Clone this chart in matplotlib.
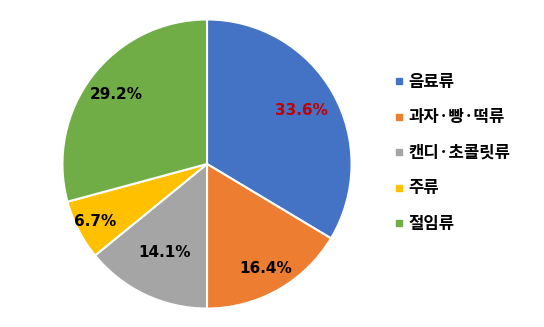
import numpy as np
import matplotlib.pyplot as plt
from matplotlib.lines import Line2D

labels = ["음료류", "과자·빵·떡류", "캔디·초콜릿류", "주류", "절임류"]
values = [33.6, 16.4, 14.1, 6.7, 29.2]
colors = ["#4472C4", "#ED7D31", "#A5A5A5", "#FFC000", "#70AD47"]
label_colors = ["#C00000", "black", "black", "black", "black"]
label_radius = [0.75, 0.83, 0.68, 0.87, 0.79]

fonts = ["Noto Sans CJK KR", "DejaVu Sans"]

fig = plt.figure(figsize=(5.44, 3.27), dpi=100)
ax = fig.add_axes([61 / 544, 17 / 327, 292 / 544, 292 / 327])

wedges, _ = ax.pie(values, colors=colors, startangle=90, counterclock=False,
                   wedgeprops=dict(edgecolor="white", linewidth=1.5))
ax.set_xlim(-1.01, 1.01)
ax.set_ylim(-1.01, 1.01)
ax.set_aspect("equal")

for w, v, r, c in zip(wedges, values, label_radius, label_colors):
    ang = np.deg2rad((w.theta1 + w.theta2) / 2)
    ax.text(r * np.cos(ang), r * np.sin(ang), f"{v:.1f}%", ha="center", va="center",
            fontsize=11, fontweight="bold", color=c, family="DejaVu Sans")

handles = [Line2D([], [], marker="s", linestyle="", markersize=5, color=c) for c in colors]
leg = fig.legend(handles, labels, loc="upper left", bbox_to_anchor=(380 / 544, 1 - 58 / 327),
                 frameon=False, handlelength=0.5, handletextpad=0.3, labelspacing=1.05,
                 prop=dict(family=fonts, weight="bold", size=12))

fig.savefig("out.png", dpi=100)
